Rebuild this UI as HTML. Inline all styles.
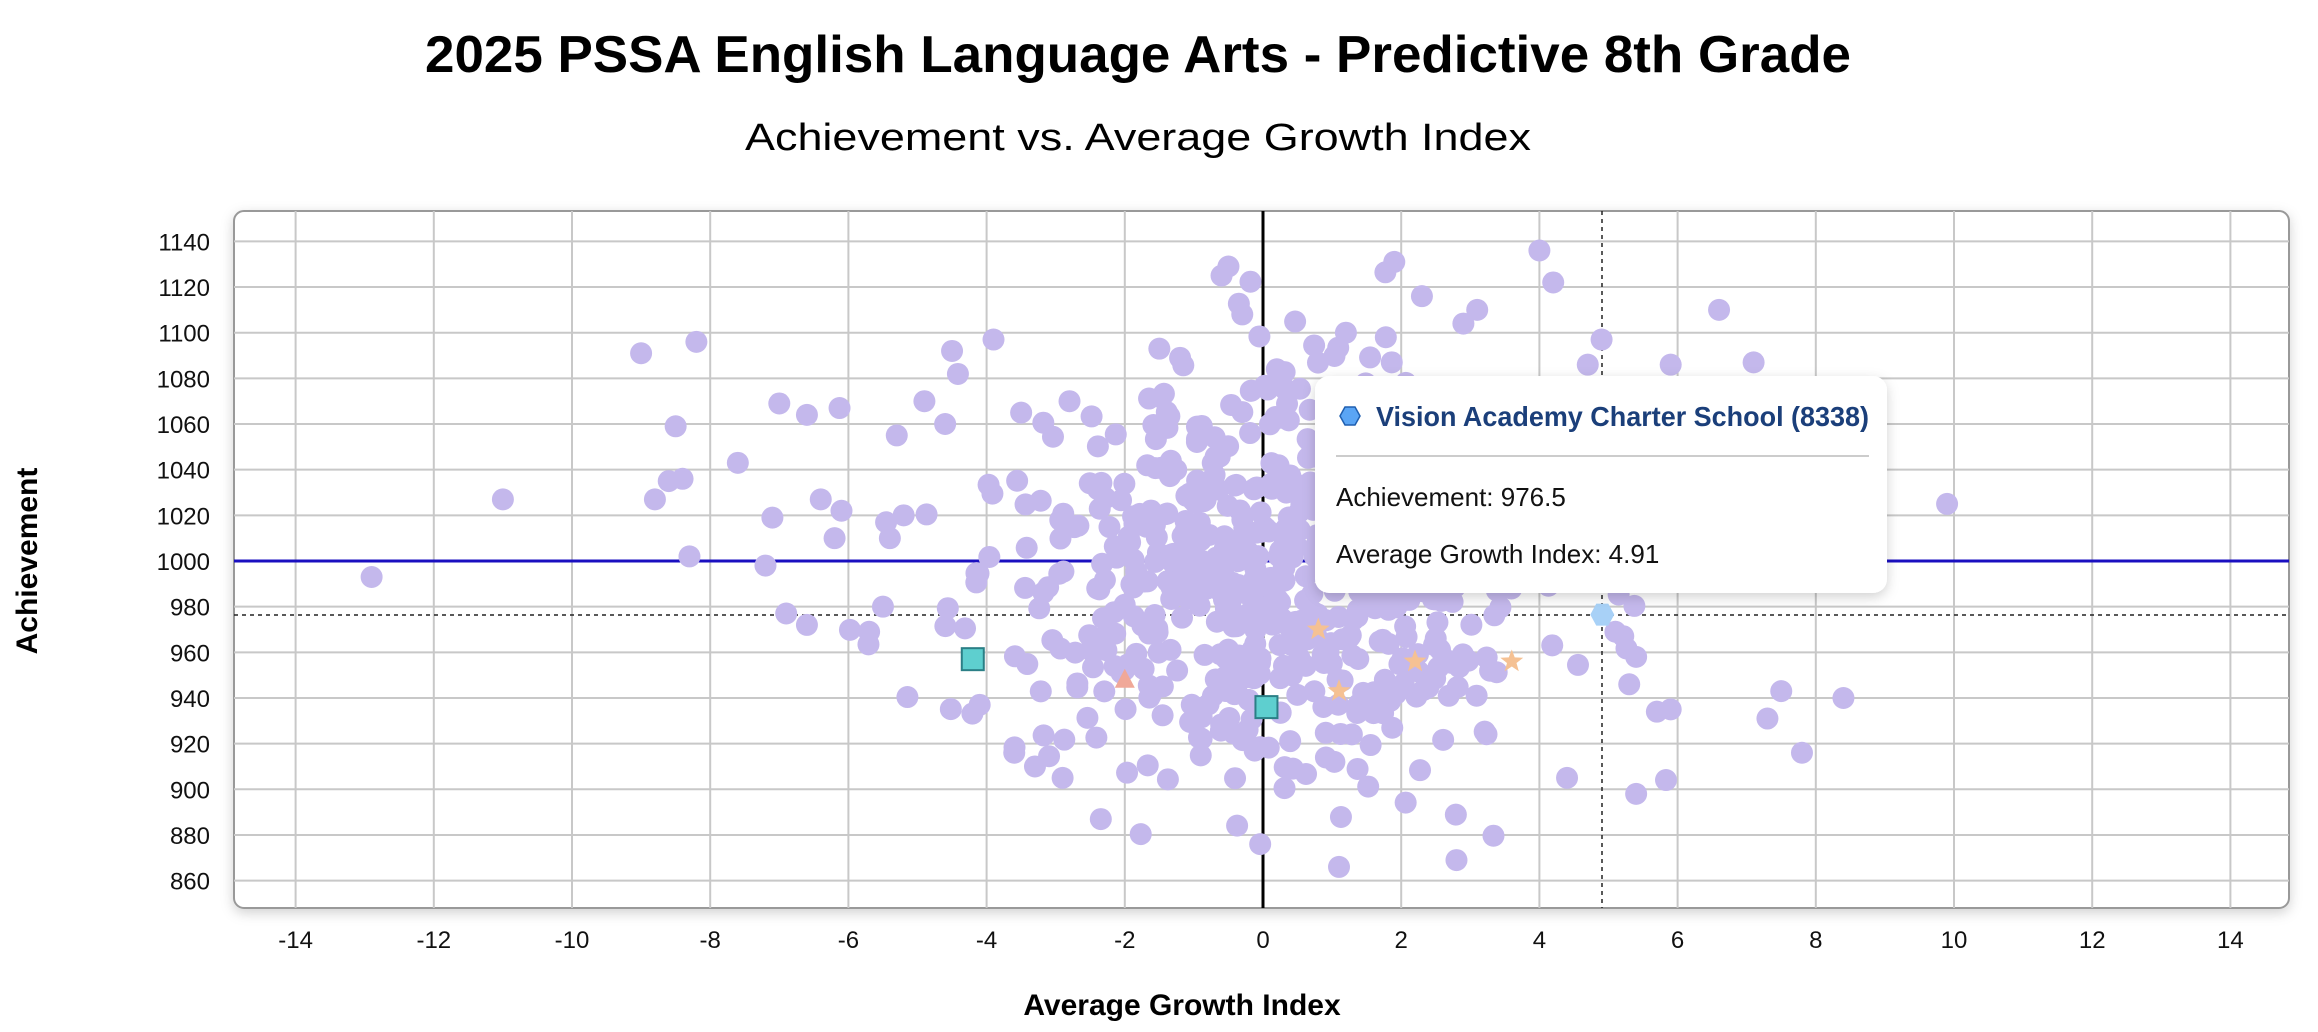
<!DOCTYPE html>
<html><head><meta charset="utf-8">
<style>
html,body{margin:0;padding:0;background:#fff;width:2318px;height:1032px;overflow:hidden}
svg{display:block}
text{font-family:"Liberation Sans",sans-serif}
</style></head>
<body>
<svg id="s" width="2318" height="1032" viewBox="0 0 2318 1032" xmlns="http://www.w3.org/2000/svg">
<defs>
<filter id="sh" x="-5%" y="-5%" width="110%" height="115%"><feDropShadow dx="0" dy="4" stdDeviation="6" flood-color="#000" flood-opacity="0.18"/></filter>
<clipPath id="pc"><rect x="234" y="211" width="2055" height="697" rx="10"/></clipPath>
</defs>
<text x="1138" y="72" text-anchor="middle" font-size="52" font-weight="bold" textLength="1426" lengthAdjust="spacingAndGlyphs">2025 PSSA English Language Arts - Predictive 8th Grade</text>
<text x="1138" y="150" text-anchor="middle" font-size="38" textLength="786" lengthAdjust="spacingAndGlyphs">Achievement vs. Average Growth Index</text>
<rect x="234" y="211" width="2055" height="697" rx="10" fill="#fff" stroke="#999" stroke-width="2" filter="url(#sh)"/>
<g id="grid" stroke="#c8c8c8" stroke-width="2"></g>
<g id="lbl" font-size="24" fill="#111"></g>
<g clip-path="url(#pc)">
<line x1="1263" y1="211" x2="1263" y2="908" stroke="#000" stroke-width="3"/>
<line x1="234" y1="561" x2="2289" y2="561" stroke="#1a0fc0" stroke-width="3"/>
<line x1="1602" y1="211" x2="1602" y2="908" stroke="#222" stroke-width="1.5" stroke-dasharray="4,4"/>
<line x1="234" y1="615" x2="2289" y2="615" stroke="#222" stroke-width="1.5" stroke-dasharray="4,4"/>
<g id="pts" fill="#c4b8ec"></g>
<g id="sp"></g>
</g>
<text x="37" y="561" transform="rotate(-90 37 561)" text-anchor="middle" font-size="30" font-weight="bold">Achievement</text>
<text x="1182" y="1015" text-anchor="middle" font-size="30" font-weight="bold">Average Growth Index</text>
<g filter="url(#sh)"><rect x="1315" y="376" width="572" height="217" rx="14" fill="#fff"/></g>
<polygon points="1345,407 1355,407 1360,416 1355,425 1345,425 1340,416" fill="#5aa5f5" stroke="#1f5fb0" stroke-width="1.5"/>
<text x="1376" y="426" font-size="28" font-weight="bold" fill="#1b3f7a" textLength="493" lengthAdjust="spacingAndGlyphs">Vision Academy Charter School (8338)</text>
<line x1="1336" y1="456" x2="1869" y2="456" stroke="#ccc" stroke-width="2"/>
<text x="1336" y="506" font-size="26" fill="#111">Achievement: 976.5</text>
<text x="1336" y="563" font-size="26" fill="#111">Average Growth Index: 4.91</text>
</svg>
<script>
(function(){
var NS="http://www.w3.org/2000/svg";
function X(v){return 1263+v*69.1;}
function Y(v){return 561-(v-1000)*2.283;}
function el(t,a,p){var e=document.createElementNS(NS,t);for(var k in a)e.setAttribute(k,a[k]);if(p)p.appendChild(e);return e;}
var g=document.getElementById('grid'),l=document.getElementById('lbl');
for(var v=-14;v<=14;v+=2){el('line',{x1:X(v),y1:211,x2:X(v),y2:908},g);var t=el('text',{x:X(v),y:948,'text-anchor':'middle'},l);t.textContent=v;}
for(var v=860;v<=1140;v+=20){el('line',{x1:234,y1:Y(v),x2:2289,y2:Y(v)},g);var t=el('text',{x:210,y:Y(v)+9,'text-anchor':'end'},l);t.textContent=v;}
var s=12345;function r(){s|=0;s=s+0x6D2B79F5|0;var t=Math.imul(s^s>>>15,1|s);t=t+Math.imul(t^t>>>7,61|t)^t;return((t^t>>>14)>>>0)/4294967296;}
function n(){return Math.sqrt(-2*Math.log(r()+1e-9))*Math.cos(2*Math.PI*r());}
var P=document.getElementById('pts');
var out=[[-12.9,993],[-11,1027],[-9,1091],[-8.2,1096],[-8.5,1059],[-8.4,1036],[-8.6,1035],[-8.8,1027],[-8.3,1002],[-7.6,1043],[-7.1,1019],[-7,1069],[-6.9,977],[-6.6,1064],[-6.6,972],[-5.7,969],[-5.5,980],[9.9,1025],[8.4,940],[7.8,916],[7.5,943],[7.3,931],[7.1,1087],[6.6,1110],[5.9,1086],[5.9,935],[5.7,934],[5.4,958],[5.4,898],[5.3,946],[5.1,969],[4.9,1097],[4.7,1086],[4,1136],[4.2,1122],[4.4,905],[2.8,869],[1.1,866],[1.9,1131],[-0.3,1108],[-0.5,1129],[-0.6,1125],[-1.2,1089],[-3.6,916],[-3.3,910],[-2.9,905],[-4.1,937],[-3.9,1097],[-4.5,1092],[-6.2,1010],[-6.4,1027],[-7.2,998],[-6.1,1022],[2.9,1104],[3.1,1110],[1.2,1100],[2.3,1116],[5.6,1000],[-1.5,1093],[0.2,1084],[-5.3,1055],[-4.6,1060],[-4.9,1070],[-3.5,1065],[-2.8,1070],[-5.4,1010],[-5.2,1020]];
out.forEach(function(p){el('circle',{cx:X(p[0]),cy:Y(p[1]),r:11},P);});
for(var i=0;i<640;i++){var x=n()*2.0+0.05,y=n()*45+990;if(y>1135||y<865)continue;el('circle',{cx:X(x),cy:Y(y),r:11},P);}
var S=document.getElementById('sp');
function sq(x,y){el('rect',{x:X(x)-11,y:Y(y)-11,width:22,height:22,fill:'#5ecfcf',stroke:'#2b7f86','stroke-width':2},S);}
sq(-4.2,957);sq(0.05,936);
function star(x,y){var cx=X(x),cy=Y(y),pts=[];for(var k=0;k<10;k++){var a=-Math.PI/2+k*Math.PI/5,rr=k%2?5:12;pts.push((cx+rr*Math.cos(a)).toFixed(1)+','+(cy+rr*Math.sin(a)).toFixed(1));}el('polygon',{points:pts.join(' '),fill:'#f5c193'},S);}
star(0.8,970);star(2.2,956);star(3.6,956);star(1.1,943);
var tx=X(-2),ty=Y(948);el('polygon',{points:tx+','+(ty-11)+' '+(tx+10)+','+(ty+8)+' '+(tx-10)+','+(ty+8),fill:'#f0a898'},S);
var hx=X(4.91),hy=Y(976.5);el('polygon',{points:(hx-6)+','+(hy-11)+' '+(hx+6)+','+(hy-11)+' '+(hx+12)+','+hy+' '+(hx+6)+','+(hy+11)+' '+(hx-6)+','+(hy+11)+' '+(hx-12)+','+hy,fill:'#a8d1f7'},S);
})();
</script>
</body></html>
